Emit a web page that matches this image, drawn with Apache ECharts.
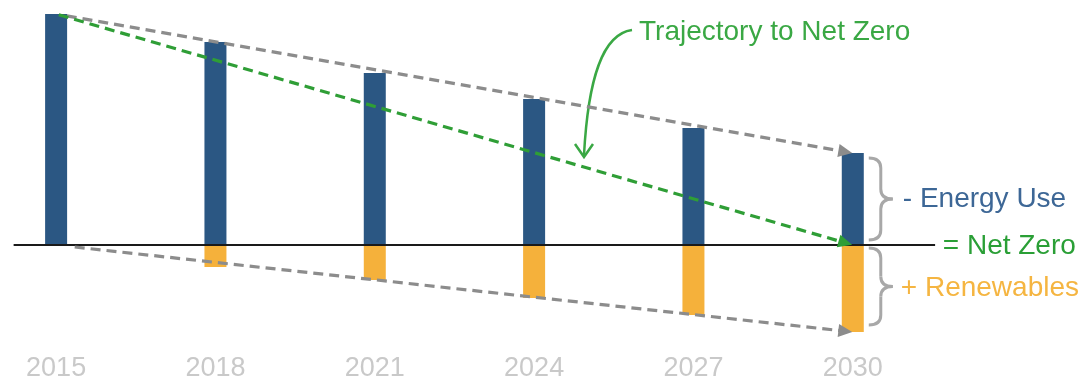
<!DOCTYPE html>
<html>
<head>
<meta charset="utf-8">
<script src="https://cdn.jsdelivr.net/npm/echarts@6/dist/echarts.min.js"></script>
<style>
html,body{margin:0;padding:0;background:#fff;}
#chart{width:1083px;height:379px;}
</style>
</head>
<body>
<div id="chart"></div>
<script>
// ---- data ----
const years = ['2015', '2018', '2021', '2024', '2027', '2030'];
const energyUse = [231, 203, 172, 146, 117, 92];     // above the net-zero line
const renewables = [0, 22, 35, 53, 70, 87];          // below the net-zero line
const labelEnergy = '- Energy Use';
const labelNetZero = '= Net Zero';
const labelRenew = '+ Renewables';
const labelTrajectory = 'Trajectory to Net Zero';

// ---- styling constants ----
const BLUE = '#2b5783', ORANGE = '#f5b13b', GREEN = '#2f9e36', GREY = '#8c8c8c';
const FONT = '"Liberation Sans", Arial, sans-serif';
const baseYear = +years[0];
const xs = years.map(y => +y - baseYear);
const last = xs.length - 1;
const arrowEnd = xs[last] - 0.14;   // arrow tips stop just left of the last bar

function lerp(x0, y0, x1, y1, x) { return y0 + (y1 - y0) * (x - x0) / (x1 - x0); }

function arrowLine(x0, y0, x1, y1, xs0, color) {
  const ys0 = lerp(x0, y0, x1, y1, xs0);
  const ye = lerp(x0, y0, x1, y1, arrowEnd);
  return {
    type: 'line', xAxisIndex: 0, yAxisIndex: 0, silent: true, z: 5,
    data: [[xs0, ys0], [arrowEnd, ye]],
    showSymbol: false, symbol: 'none', lineStyle: { opacity: 0 },
    markLine: {
      silent: true, animation: false,
      symbol: ['none', 'triangle'], symbolSize: [13, 14],
      label: { show: false },
      lineStyle: { color: color, width: 3.2, type: [10, 6] },
      emphasis: { disabled: true },
      data: [[{ coord: [xs0, ys0] }, { coord: [arrowEnd, ye] }]]
    }
  };
}

const chart = echarts.init(document.getElementById('chart'), null, { renderer: 'canvas' });

const option = {
  animation: false,
  backgroundColor: '#fff',
  grid: { left: 3, right: 124, top: 5, bottom: 29, containLabel: false, outerBoundsMode: 'none' },
  xAxis: {
    type: 'value', min: -1, max: 17, interval: 1,
    axisLine: { show: false }, axisTick: { show: false }, splitLine: { show: false },
    axisLabel: {
      margin: 5, color: '#c9c9c9', fontSize: 27, fontFamily: FONT,
      formatter: v => years.includes(String(baseYear + v)) ? String(baseYear + v) : ''
    }
  },
  yAxis: { type: 'value', min: -105, max: 240, show: false },
  series: [
    {
      type: 'bar', barWidth: 22, barGap: '-100%', z: 2,
      itemStyle: { color: BLUE },
      data: xs.map((x, i) => [x, energyUse[i]])
    },
    {
      type: 'bar', barWidth: 22, barGap: '-100%', z: 2,
      itemStyle: { color: ORANGE },
      data: xs.map((x, i) => [x, -renewables[i]])
    },
    // net-zero baseline
    {
      type: 'line', silent: true, z: 4, data: [[-0.8, 0], [16.55, 0]],
      showSymbol: false, symbol: 'none', lineStyle: { opacity: 0 },
      markLine: {
        silent: true, animation: false, symbol: ['none', 'none'],
        label: { show: false }, lineStyle: { color: '#1a1a1a', width: 2, type: 'solid' },
        data: [[{ coord: [-0.8, 0] }, { coord: [16.55, 0] }]]
      }
    },
    arrowLine(xs[0], energyUse[0], xs[last], energyUse[last], 0.2, GREY),
    arrowLine(xs[0], -renewables[0], xs[last], -renewables[last], 0.35, GREY),
    arrowLine(xs[0], energyUse[0], xs[last], 0, 0.05, GREEN)
  ]
};
chart.setOption(option);

// ---- annotations anchored to the chart scale ----
function px(x, y) { return chart.convertToPixel({ gridIndex: 0 }, [x, y]); }
const pTop = px(xs[last], energyUse[last]);
const pZero = px(xs[last], 0);
const pBot = px(xs[last], -renewables[last]);
const barX = pTop[0];

const braceStyle = { stroke: '#a8a8a8', lineWidth: 3, fill: null };
function brace(x0, y1, y2) {
  const xm = x0 + 12, xt = x0 + 24, r = 10, ym = (y1 + y2) / 2;
  const q = (ax, ay, cx, cy, bx, by) => ({ type: 'bezierCurve', silent: true,
    shape: { x1: ax, y1: ay, cpx1: cx, cpy1: cy, x2: bx, y2: by }, style: braceStyle });
  const l = (ax, ay, bx, by) => ({ type: 'line', silent: true,
    shape: { x1: ax, y1: ay, x2: bx, y2: by }, style: braceStyle });
  return [
    q(x0, y1, xm, y1, xm, y1 + r),
    l(xm, y1 + r, xm, ym - r),
    q(xm, ym - r, xm, ym, xt, ym),
    q(xt, ym, xm, ym, xm, ym + r),
    l(xm, ym + r, xm, y2 - r),
    q(xm, y2 - r, xm, y2, x0, y2)
  ];
}

const TGREEN = '#3aa844';
const TFONT = '28px ' + FONT;
chart.setOption({
  graphic: [
    ...brace(barX + 16, pTop[1] + 5, pZero[1] - 5),
    ...brace(barX + 16, pZero[1] + 3, pBot[1] - 7),
    { type: 'text', silent: true, x: barX + 50, y: (pTop[1] + pZero[1]) / 2,
      style: { text: labelEnergy, fill: '#3d6796', font: TFONT, align: 'left', verticalAlign: 'middle' } },
    { type: 'text', silent: true, x: barX + 90, y: pZero[1] + 1,
      style: { text: labelNetZero, fill: '#2a9f36', font: TFONT, align: 'left', verticalAlign: 'middle' } },
    { type: 'text', silent: true, x: barX + 48, y: (pZero[1] + pBot[1]) / 2,
      style: { text: labelRenew, fill: '#f5b541', font: TFONT, align: 'left', verticalAlign: 'middle' } },
    { type: 'text', silent: true, x: 639, y: 32,
      style: { text: labelTrajectory, fill: TGREEN, font: TFONT, align: 'left', verticalAlign: 'middle' } },
    { type: 'bezierCurve', silent: true,
      shape: { x1: 632, y1: 30, cpx1: 602, cpy1: 34, cpx2: 588, cpy2: 80, x2: 584, y2: 155 },
      style: { stroke: TGREEN, lineWidth: 2.5, fill: null } },
    { type: 'polyline', silent: true,
      shape: { points: [[575, 144], [584, 157], [593, 144]] },
      style: { stroke: TGREEN, lineWidth: 2.5, fill: null } }
  ]
});
</script>
</body>
</html>
